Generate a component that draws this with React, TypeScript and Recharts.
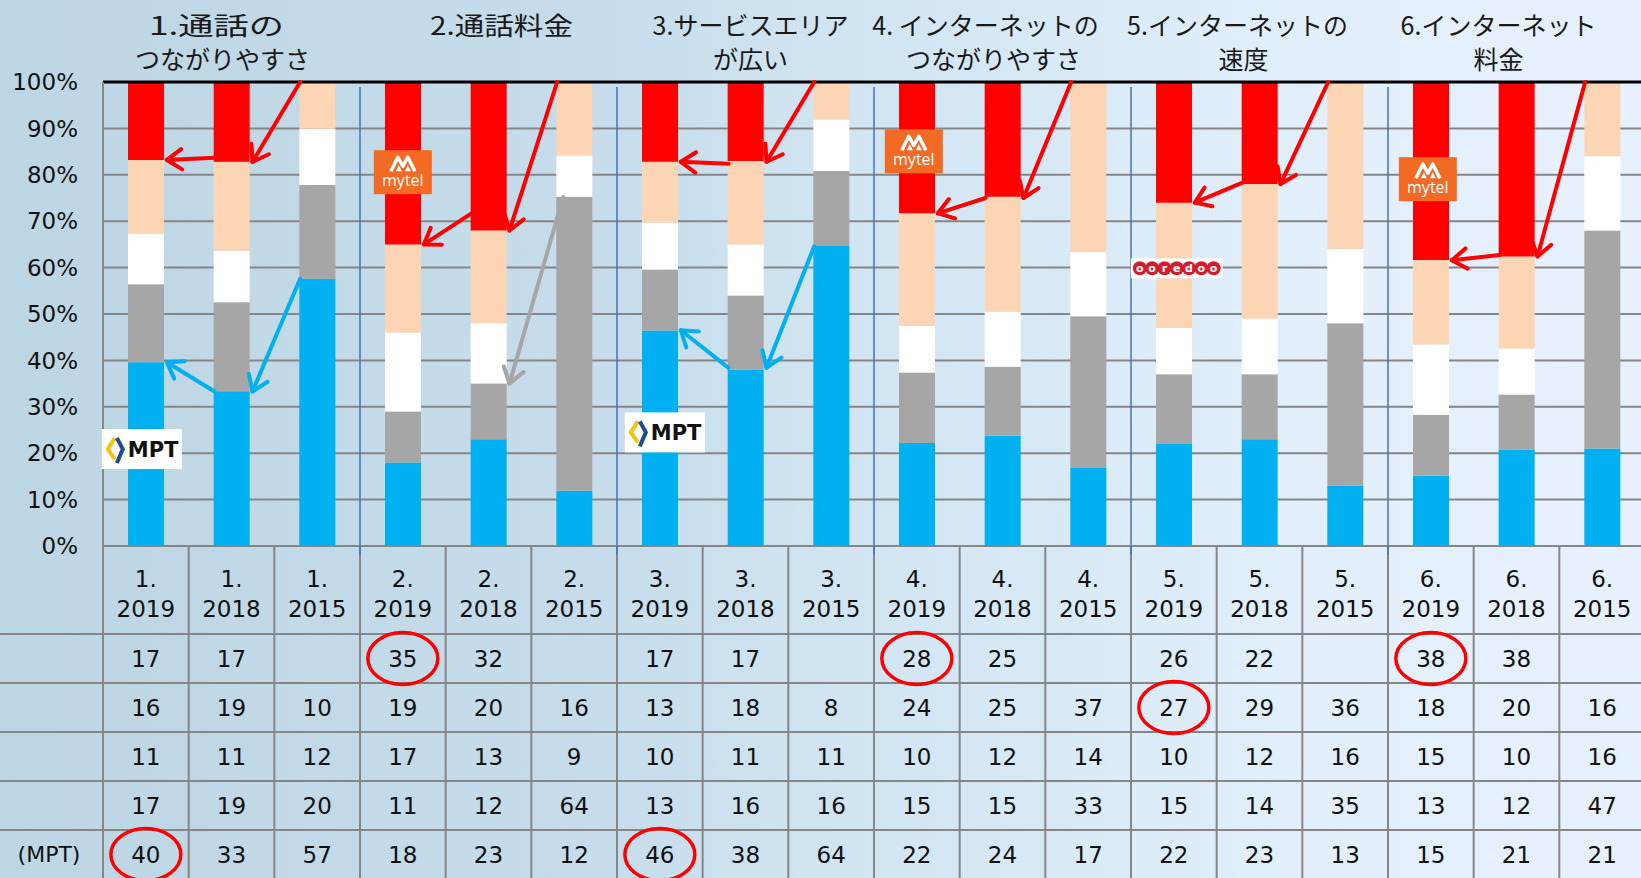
import { BarChart, Bar, XAxis, YAxis, CartesianGrid, ReferenceLine } from "recharts";

// categories: item number + survey year
const GROUP_NUMS = ["1.", "1.", "1.", "2.", "2.", "2.", "3.", "3.", "3.", "4.", "4.", "4.", "5.", "5.", "5.", "6.", "6.", "6."];
const YEARS = ["2019", "2018", "2015", "2019", "2018", "2015", "2019", "2018", "2015", "2019", "2018", "2015", "2019", "2018", "2015", "2019", "2018", "2015"];

// table rows, top to bottom (bars are stacked bottom-up: mpt, gray, white, peach, red)
const MYTEL = [17, 17, null, 35, 32, null, 17, 17, null, 28, 25, null, 26, 22, null, 38, 38, null];
const OOREDOO = [16, 19, 10, 19, 20, 16, 13, 18, 8, 24, 25, 37, 27, 29, 36, 18, 20, 16];
const ROW_WHITE = [11, 11, 12, 17, 13, 9, 10, 11, 11, 10, 12, 14, 10, 12, 16, 15, 10, 16];
const ROW_GRAY = [17, 19, 20, 11, 12, 64, 13, 16, 16, 15, 15, 33, 15, 14, 35, 13, 12, 47];
const MPT = [40, 33, 57, 18, 23, 12, 46, 38, 64, 22, 24, 17, 22, 23, 13, 15, 21, 21];
const ROW_LABELS = ["", "", "", "", "(MPT)"];

const Y_TICKS = [0, 0.1, 0.2, 0.3, 0.4, 0.5, 0.6, 0.7, 0.8, 0.9, 1];

const TITLES = [
  ["1.通話の", "つながりやすさ"],
  ["2.通話料金"],
  ["3.サービスエリア", "が広い"],
  ["4. インターネットの", "つながりやすさ"],
  ["5.インターネットの", "速度"],
  ["6.インターネット", "料金"],
];
// per-line horizontal nudge and forced width (0 = natural)
const TITLE_NUDGE = [[-15, -9], [13], [5, 5], [-17, -9], [-22, -16], [-18, -18]];
const TITLE_LEN = [[135, 0], [143], [0, 0], [0, 0], [0, 0], [0, 0]];

// red circles in the table (row, col)
const CIRCLED = [
  [0, 3], [0, 9], [0, 15], [1, 12], [4, 0], [4, 6],
];

const RED = "#FF0000";
const PEACH = "#FCD5B5";
const WHITE = "#FFFFFF";
const GRAY = "#A6A6A6";
const BLUE = "#00B0F0";

// arrows: from column/share -> to column/share
const ARROWS = [
  { from: 2, fromPct: 1.0, to: 1, toPct: 0.828, color: RED },
  { from: 1, fromPct: 0.837, to: 0, toPct: 0.832, color: RED },
  { from: 2, fromPct: 0.576, to: 1, toPct: 0.333, color: BLUE },
  { from: 1, fromPct: 0.333, to: 0, toPct: 0.396, color: BLUE },
  { from: 5, fromPct: 1.0, to: 4, toPct: 0.68, color: RED },
  { from: 4, fromPct: 0.717, to: 3, toPct: 0.65, color: RED },
  { from: 5, fromPct: 0.752, to: 4, toPct: 0.35, color: GRAY, dx: 6 },
  { from: 8, fromPct: 1.0, to: 7, toPct: 0.828, color: RED },
  { from: 7, fromPct: 0.824, to: 6, toPct: 0.828, color: RED },
  { from: 8, fromPct: 0.646, to: 7, toPct: 0.384, color: BLUE },
  { from: 7, fromPct: 0.384, to: 6, toPct: 0.465, color: BLUE },
  { from: 11, fromPct: 1.0, to: 10, toPct: 0.75, color: RED },
  { from: 10, fromPct: 0.75, to: 9, toPct: 0.717, color: RED },
  { from: 14, fromPct: 1.0, to: 13, toPct: 0.78, color: RED },
  { from: 13, fromPct: 0.783, to: 12, toPct: 0.74, color: RED },
  { from: 17, fromPct: 1.0, to: 16, toPct: 0.624, color: RED },
  { from: 16, fromPct: 0.627, to: 15, toPct: 0.616, color: RED },
];

const LOGOS = [
  { kind: "mytel", col: 3, dx: 0, topPct: 0.853 },
  { kind: "mytel", col: 9, dx: -3, topPct: 0.898 },
  { kind: "mytel", col: 15, dx: -3, topPct: 0.838 },
  { kind: "mpt", col: 0, dx: -4, topPct: 0.252 },
  { kind: "mpt", col: 6, dx: 5, topPct: 0.288 },
  { kind: "ooredoo", col: 12, dx: 3, topPct: 0.62 },
];

const TABLE_ROWS = [MYTEL, OOREDOO, ROW_WHITE, ROW_GRAY, MPT];

const data = YEARS.map((year, i) => ({
  cat: `${GROUP_NUMS[i]} ${year}`,
  mpt: MPT[i],
  gray: ROW_GRAY[i],
  white: ROW_WHITE[i],
  ooredoo: OOREDOO[i],
  mytel: MYTEL[i],
}));

// geometry
const W = 1641;
const H = 878;
const CHART_W = 1645;
const PLOT_TOP = 82;
const PLOT_LEFT = 103;
const AXIS_H = 332;
const PLOT_H = H - PLOT_TOP - AXIS_H;
const BAND = (CHART_W - PLOT_LEFT) / YEARS.length;
const BAR = 36;
const HEADER_H = 88;
const ROW_H = 49;
const LINE_C = "#868686";
const FONT = "'DejaVu Sans', Verdana, sans-serif";
const CJK = "'Noto Sans CJK JP', sans-serif";

const xOf = (col: number) => PLOT_LEFT + (col + 0.5) * BAND;
const yOf = (p: number) => PLOT_TOP + (1 - p) * PLOT_H;

function TableTick(props: any) {
  const { x, y, payload } = props;
  const i = payload.index;
  const half = BAND / 2;
  const bottom = y + AXIS_H;
  const txt = { textAnchor: "middle" as const, dominantBaseline: "central" as const, fontSize: 23, fontFamily: FONT, fill: "#111" };
  return (
    <g>
      {i === 0 && (
        <g>
          {[0, 1, 2, 3, 4, 5].map((r) => (
            <line key={r} x1={0} x2={CHART_W} y1={y + HEADER_H + r * ROW_H} y2={y + HEADER_H + r * ROW_H} stroke={LINE_C} strokeWidth={2} />
          ))}
          <line x1={x - half} x2={x - half} y1={y} y2={bottom} stroke={LINE_C} strokeWidth={2} />
          {ROW_LABELS.map((lab, r) => (
            <text key={r} {...txt} fontSize={22} x={49} y={y + HEADER_H + r * ROW_H + ROW_H / 2}>{lab}</text>
          ))}
        </g>
      )}
      <line x1={x + half} x2={x + half} y1={y} y2={bottom} stroke={LINE_C} strokeWidth={2} />
      <text {...txt} x={x} y={y + 33}>{GROUP_NUMS[i]}</text>
      <text {...txt} x={x} y={y + 63}>{YEARS[i]}</text>
      {TABLE_ROWS.map((row, r) => (
        <text key={r} {...txt} x={x} y={y + HEADER_H + r * ROW_H + ROW_H / 2}>{row[i] ?? ""}</text>
      ))}
      {CIRCLED.filter((c) => c[1] === i).map((c) => (
        <ellipse key={c[0]} cx={x} cy={y + HEADER_H + c[0] * ROW_H + ROW_H / 2} rx={35} ry={26} fill="none" stroke={RED} strokeWidth={3.5} />
      ))}
    </g>
  );
}

function Arrow({ a }: { a: any }) {
  const x1 = xOf(a.from) - BAR / 2 + 1 + (a.dx ?? 0);
  const y1 = yOf(a.fromPct);
  const x2 = xOf(a.to) + BAR / 2 + 3;
  const y2 = yOf(a.toPct);
  const ang = Math.atan2(y2 - y1, x2 - x1);
  const L = 18;
  const w1 = [x2 - L * Math.cos(ang - 0.6), y2 - L * Math.sin(ang - 0.6)];
  const w2 = [x2 - L * Math.cos(ang + 0.6), y2 - L * Math.sin(ang + 0.6)];
  return (
    <g stroke={a.color} strokeWidth={4} strokeLinecap="round" strokeLinejoin="round" fill="none">
      <line x1={x1} y1={y1} x2={x2} y2={y2} />
      <polyline points={`${w1[0]},${w1[1]} ${x2},${y2} ${w2[0]},${w2[1]}`} />
    </g>
  );
}

function Logo({ l }: { l: (typeof LOGOS)[number] }) {
  const cx = xOf(l.col) + l.dx;
  const top = yOf(l.topPct);
  if (l.kind === "mytel") {
    const x = cx - 29;
    return (
      <g>
        <rect x={x} y={top} width={58} height={44} fill="#F26A24" />
        <path d={`M${x + 17},${top + 21} L${x + 24},${top + 7} L${x + 29},${top + 16} L${x + 34},${top + 7} L${x + 41},${top + 21}`} stroke="#fff" strokeWidth={3.5} fill="none" strokeLinejoin="round" />
        <path d={`M${x + 22},${top + 21} L${x + 25},${top + 15} L${x + 28},${top + 21} Z M${x + 31},${top + 21} L${x + 34},${top + 15} L${x + 37},${top + 21} Z`} fill="#fff" />
        <text x={cx} y={top + 36} textAnchor="middle" fontSize={16} fontFamily="'Open Sans', sans-serif" fill="#fff">mytel</text>
      </g>
    );
  }
  if (l.kind === "mpt") {
    const x = cx - 40;
    return (
      <g>
        <rect x={x} y={top} width={80} height={40} fill="#fff" />
        <polyline points={`${x + 13},${top + 9} ${x + 6},${top + 20} ${x + 13},${top + 30}`} stroke="#F2C311" strokeWidth={4} fill="none" />
        <polyline points={`${x + 15},${top + 9} ${x + 21},${top + 20} ${x + 15},${top + 34}`} stroke="#1D4C99" strokeWidth={4} fill="none" />
        <text x={x + 26} y={top + 28} fontSize={21} fontWeight={700} fontFamily="'DejaVu Sans', sans-serif" fill="#111">MPT</text>
      </g>
    );
  }
  const x = cx - 46;
  const letters = "ooredoo".split("");
  return (
    <g>
      <rect x={x} y={top} width={92} height={20} fill="#fff" />
      {letters.map((ch, k) => (
        <g key={k}>
          <circle cx={x + 9 + k * 12.3} cy={top + 10} r={7} fill="#D71B2C" />
          <text x={x + 9 + k * 12.3} y={top + 14} textAnchor="middle" fontSize={11} fontWeight={700} fontFamily="'DejaVu Sans', sans-serif" fill="#fff">{ch}</text>
        </g>
      ))}
    </g>
  );
}

export default function App() {
  return (
    <div
      style={{
        position: "absolute",
        left: 0,
        top: 0,
        width: W,
        height: H,
        overflow: "hidden",
        background: "linear-gradient(90deg, #bdd6e4 0%, #c6dcea 35%, #d6e8f5 60%, #e2effb 80%, #e7f1fd 100%)",
      }}
    >
      <BarChart width={CHART_W} height={H} data={data} stackOffset="expand" margin={{ top: PLOT_TOP, right: 0, bottom: 0, left: 0 }}>
        <CartesianGrid vertical={false} stroke={LINE_C} strokeWidth={2} />
        <YAxis
          width={PLOT_LEFT}
          domain={[0, 1]}
          ticks={Y_TICKS}
          tickFormatter={(v: number) => `${Math.round(v * 100)}%`}
          tickLine={false}
          tickSize={0}
          tickMargin={25}
          axisLine={{ stroke: LINE_C, strokeWidth: 2 }}
          tick={{ fontSize: 23, fontFamily: FONT, fill: "#111" }}
        />
        <XAxis dataKey="cat" height={AXIS_H} interval={0} tickLine={false} axisLine={false} tickSize={0} tickMargin={0} tick={<TableTick />} />
        <Bar dataKey="mpt" stackId="a" fill={BLUE} barSize={BAR} isAnimationActive={false} />
        <Bar dataKey="gray" stackId="a" fill={GRAY} barSize={BAR} isAnimationActive={false} />
        <Bar dataKey="white" stackId="a" fill={WHITE} barSize={BAR} isAnimationActive={false} />
        <Bar dataKey="ooredoo" stackId="a" fill={PEACH} barSize={BAR} isAnimationActive={false} />
        <Bar dataKey="mytel" stackId="a" fill={RED} barSize={BAR} isAnimationActive={false} />
        <ReferenceLine y={1} stroke="#000" strokeWidth={3} />
      </BarChart>
      <svg width={W} height={H} style={{ position: "absolute", left: 0, top: 0, pointerEvents: "none" }}>
        {[1, 2, 3, 4, 5].map((g) => (
          <line key={g} x1={PLOT_LEFT + g * 3 * BAND} x2={PLOT_LEFT + g * 3 * BAND} y1={PLOT_TOP + 5} y2={PLOT_TOP + PLOT_H + 9} stroke="#4472C4" strokeWidth={1.5} />
        ))}
        {TITLES.map((lines, g) => (
          <g key={g}>
            {lines.map((t, k) => (
              <text
                key={k}
                x={PLOT_LEFT + (g * 3 + 1.5) * BAND + TITLE_NUDGE[g][k]}
                y={24 + k * 34}
                textAnchor="middle"
                dominantBaseline="central"
                fontSize={25}
                fontFamily={CJK}
                fill="#1a1a1a"
                {...(TITLE_LEN[g][k] ? { textLength: TITLE_LEN[g][k], lengthAdjust: "spacingAndGlyphs" } : {})}
              >
                {t}
              </text>
            ))}
          </g>
        ))}
        {LOGOS.map((l, k) => (
          <Logo key={k} l={l} />
        ))}
        {ARROWS.map((a, k) => (
          <Arrow key={k} a={a} />
        ))}
      </svg>
    </div>
  );
}
